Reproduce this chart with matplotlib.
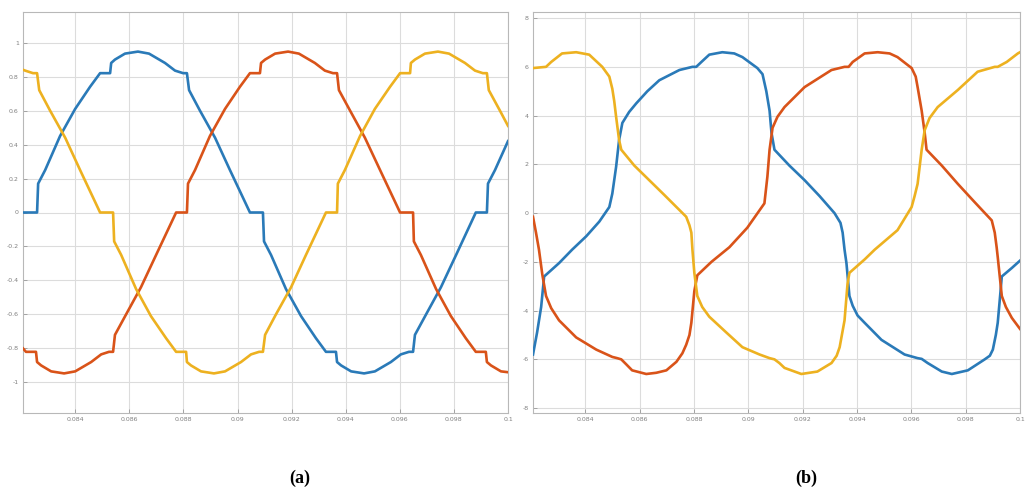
import matplotlib
matplotlib.use("Agg")
import matplotlib.pyplot as plt

# ---------------- Panel (a) data ----------------
a_blue_t = [0.08207, 0.08259, 0.08263, 0.08289, 0.08344, 0.08400, 0.08455, 0.08492, 0.08529, 0.08533,
            0.08547, 0.08584, 0.08632, 0.08673, 0.08732, 0.08769, 0.08799, 0.08813, 0.08821, 0.08861,
            0.08917, 0.08972, 0.09046, 0.09094, 0.09098, 0.09124, 0.09179, 0.09235, 0.09290, 0.09327,
            0.09364, 0.09368, 0.09383, 0.09420, 0.09468, 0.09508, 0.09567, 0.09604, 0.09634, 0.09649,
            0.09656, 0.09697, 0.09752, 0.09808, 0.09881, 0.09922, 0.09926, 0.09952, 0.10000]
a_blue_v = [0.0, 0.0, 0.17, 0.25, 0.45, 0.61, 0.74, 0.82, 0.82, 0.88,
            0.90, 0.935, 0.947, 0.935, 0.88, 0.835, 0.82, 0.82, 0.72, 0.60,
            0.44, 0.25, 0.0, 0.0, -0.17, -0.25, -0.45, -0.61, -0.74, -0.82,
            -0.82, -0.88, -0.90, -0.935, -0.947, -0.935, -0.88, -0.835, -0.82, -0.82,
            -0.72, -0.60, -0.44, -0.25, 0.0, 0.0, 0.17, 0.25, 0.42]

a_red_t = [0.08207, 0.08218, 0.08255, 0.08259, 0.08274, 0.08311, 0.08359, 0.08400, 0.08459, 0.08496,
           0.08525, 0.08540, 0.08547, 0.08588, 0.08643, 0.08699, 0.08773, 0.08813, 0.08817, 0.08843,
           0.08898, 0.08954, 0.09009, 0.09046, 0.09083, 0.09087, 0.09102, 0.09139, 0.09187, 0.09227,
           0.09286, 0.09323, 0.09353, 0.09368, 0.09375, 0.09416, 0.09471, 0.09527, 0.09601, 0.09649,
           0.09652, 0.09678, 0.09734, 0.09789, 0.09844, 0.09881, 0.09918, 0.09922, 0.09937, 0.09974,
           0.10000]
a_red_v = [-0.80, -0.82, -0.82, -0.88, -0.90, -0.935, -0.947, -0.935, -0.88, -0.835,
           -0.82, -0.82, -0.72, -0.60, -0.44, -0.25, 0.0, 0.0, 0.17, 0.25,
           0.45, 0.61, 0.74, 0.82, 0.82, 0.88, 0.90, 0.935, 0.947, 0.935,
           0.88, 0.835, 0.82, 0.82, 0.72, 0.60, 0.44, 0.25, 0.0, 0.0,
           -0.17, -0.25, -0.45, -0.61, -0.74, -0.82, -0.82, -0.88, -0.90, -0.935,
           -0.94]

a_yel_t = [0.08207, 0.08215, 0.08244, 0.08259, 0.08267, 0.08307, 0.08363, 0.08418, 0.08492, 0.08540,
           0.08544, 0.08570, 0.08625, 0.08680, 0.08736, 0.08773, 0.08810, 0.08813, 0.08828, 0.08865,
           0.08913, 0.08954, 0.09013, 0.09050, 0.09080, 0.09094, 0.09102, 0.09142, 0.09198, 0.09253,
           0.09327, 0.09368, 0.09371, 0.09397, 0.09453, 0.09508, 0.09564, 0.09601, 0.09638, 0.09641,
           0.09656, 0.09693, 0.09741, 0.09782, 0.09841, 0.09878, 0.09907, 0.09922, 0.09929, 0.09970,
           0.10000]
a_yel_v = [0.84, 0.835, 0.82, 0.82, 0.72, 0.60, 0.44, 0.25, 0.0, 0.0,
           -0.17, -0.25, -0.45, -0.61, -0.74, -0.82, -0.82, -0.88, -0.90, -0.935,
           -0.947, -0.935, -0.88, -0.835, -0.82, -0.82, -0.72, -0.60, -0.44, -0.25,
           0.0, 0.0, 0.17, 0.25, 0.45, 0.61, 0.74, 0.82, 0.82, 0.88,
           0.90, 0.935, 0.947, 0.935, 0.88, 0.835, 0.82, 0.82, 0.72, 0.60,
           0.51]

# ---------------- Panel (b) data ----------------
b_blue_t = [0.08207, 0.08222, 0.08237, 0.08248, 0.08303, 0.08351, 0.08403, 0.08451, 0.08488, 0.08499,
            0.08513, 0.08524, 0.08536, 0.08561, 0.08587, 0.08628, 0.08672, 0.08746, 0.08794, 0.08808,
            0.08827, 0.08856, 0.08904, 0.08948, 0.08978, 0.09033, 0.09052, 0.09066, 0.09078, 0.09085,
            0.09096, 0.09151, 0.09207, 0.09262, 0.09317, 0.09339, 0.09347, 0.09354, 0.09361, 0.09372,
            0.09384, 0.09402, 0.09428, 0.09490, 0.09575, 0.09623, 0.09638, 0.09660, 0.09712, 0.09749,
            0.09808, 0.09870, 0.09889, 0.09900, 0.09911, 0.09918, 0.09926, 0.09933, 0.09970, 0.10000]
b_blue_v = [-5.8, -4.9, -3.85, -2.6, -2.05, -1.5, -0.95, -0.35, 0.25, 0.8,
            1.9, 3.0, 3.7, 4.15, 4.5, 5.0, 5.45, 5.87, 6.0, 6.0,
            6.2, 6.5, 6.6, 6.55, 6.4, 5.95, 5.7, 5.0, 4.2, 3.3,
            2.6, 1.95, 1.35, 0.7, 0.0, -0.4, -0.8, -1.5, -2.05, -3.4,
            -3.8, -4.2, -4.5, -5.2, -5.8, -5.95, -5.98, -6.15, -6.5, -6.6,
            -6.45, -6.0, -5.85, -5.6, -5.0, -4.5, -3.5, -2.6, -2.25, -1.95]

b_red_t = [0.08207, 0.08218, 0.08229, 0.08241, 0.08255, 0.08274, 0.08303, 0.08366, 0.08440, 0.08499,
           0.08517, 0.08532, 0.08550, 0.08572, 0.08624, 0.08661, 0.08698, 0.08735, 0.08757, 0.08771,
           0.08783, 0.08790, 0.08801, 0.08812, 0.08864, 0.08930, 0.08996, 0.09059, 0.09070, 0.09078,
           0.09089, 0.09107, 0.09133, 0.09207, 0.09306, 0.09354, 0.09369, 0.09384, 0.09428, 0.09476,
           0.09520, 0.09549, 0.09601, 0.09616, 0.09623, 0.09638, 0.09649, 0.09656, 0.09712, 0.09771,
           0.09833, 0.09896, 0.09907, 0.09914, 0.09918, 0.09933, 0.09948, 0.09970, 0.10000]
b_red_v = [-0.15, -0.8, -1.5, -2.5, -3.4, -3.9, -4.4, -5.1, -5.6, -5.9,
           -5.95, -6.0, -6.2, -6.45, -6.6, -6.55, -6.45, -6.1, -5.75, -5.4,
           -5.0, -4.5, -3.2, -2.55, -2.0, -1.4, -0.6, 0.4, 1.5, 2.6,
           3.5, 3.95, 4.35, 5.17, 5.87, 6.0, 6.0, 6.2, 6.55, 6.6,
           6.55, 6.4, 5.95, 5.6, 5.17, 4.2, 3.3, 2.6, 1.95, 1.2,
           0.45, -0.3, -0.8, -1.4, -1.8, -3.4, -3.85, -4.3, -4.75]

b_yel_t = [0.08207, 0.08255, 0.08274, 0.08314, 0.08366, 0.08414, 0.08462, 0.08488, 0.08499, 0.08506,
           0.08513, 0.08524, 0.08532, 0.08580, 0.08635, 0.08690, 0.08735, 0.08771, 0.08783, 0.08790,
           0.08794, 0.08801, 0.08812, 0.08830, 0.08856, 0.08919, 0.08978, 0.09041, 0.09078, 0.09096,
           0.09114, 0.09133, 0.09195, 0.09254, 0.09306, 0.09325, 0.09336, 0.09354, 0.09365, 0.09372,
           0.09428, 0.09465, 0.09549, 0.09601, 0.09612, 0.09623, 0.09638, 0.09649, 0.09667, 0.09697,
           0.09771, 0.09844, 0.09907, 0.09918, 0.09951, 0.09992, 0.10000]
b_yel_v = [5.95, 6.0, 6.2, 6.55, 6.6, 6.5, 6.0, 5.6, 5.1, 4.6,
           3.95, 3.0, 2.6, 1.95, 1.35, 0.75, 0.25, -0.15, -0.5, -0.8,
           -1.5, -2.45, -3.4, -3.85, -4.25, -4.9, -5.5, -5.8, -5.95, -6.0,
           -6.15, -6.35, -6.6, -6.5, -6.15, -5.85, -5.5, -4.4, -2.9, -2.45,
           -1.9, -1.5, -0.7, 0.25, 0.7, 1.2, 2.6, 3.4, 3.9, 4.35,
           5.05, 5.8, 6.0, 6.0, 6.2, 6.55, 6.6]

x_ticks = [0.084, 0.086, 0.088, 0.09, 0.092, 0.094, 0.096, 0.098, 0.1]
x_ticklabels = ["0.084", "0.086", "0.088", "0.09", "0.092", "0.094", "0.096", "0.098", "0.1"]
a_yticks = [-1, -0.8, -0.6, -0.4, -0.2, 0, 0.2, 0.4, 0.6, 0.8, 1]
a_yticklabels = ["-1", "-0.8", "-0.6", "-0.4", "-0.2", "0", "0.2", "0.4", "0.6", "0.8", "1"]
b_yticks = [-8, -6, -4, -2, 0, 2, 4, 6, 8]
b_yticklabels = ["-8", "-6", "-4", "-2", "0", "2", "4", "6", "8"]
panel_labels = ["(a)", "(b)"]

BLUE = "#2a7ab8"
RED = "#d95319"
YEL = "#edb120"

fig = plt.figure(figsize=(10.25, 4.93), dpi=100)
W, H = 1025.0, 493.0
axA = fig.add_axes([23 / W, (H - 413) / H, 485 / W, 401 / H])
axB = fig.add_axes([533 / W, (H - 413) / H, 487 / W, 401 / H])

def style(ax, yticks, ylabels, ylim):
    ax.set_xlim(0.08207, 0.1)
    ax.set_ylim(*ylim)
    ax.set_xticks(x_ticks)
    ax.set_xticklabels(x_ticklabels)
    ax.set_yticks(yticks)
    ax.set_yticklabels(ylabels)
    ax.grid(True, color="#dcdcdc", linewidth=0.8)
    ax.set_axisbelow(True)
    ax.tick_params(direction="in", length=3, width=0.6, colors="#9a9a9a",
                   labelsize=4.5, labelcolor="#808080", pad=3)
    for s in ax.spines.values():
        s.set_color("#b8b8b8")
        s.set_linewidth(0.8)

lw = 1.9
axA.plot(a_blue_t, a_blue_v, color=BLUE, lw=lw, zorder=3)
axA.plot(a_red_t, a_red_v, color=RED, lw=lw, zorder=3)
axA.plot(a_yel_t, a_yel_v, color=YEL, lw=lw, zorder=3)
style(axA, a_yticks, a_yticklabels, (-1.18, 1.18))

axB.plot(b_blue_t, b_blue_v, color=BLUE, lw=lw, zorder=3)
axB.plot(b_red_t, b_red_v, color=RED, lw=lw, zorder=3)
axB.plot(b_yel_t, b_yel_v, color=YEL, lw=lw, zorder=3)
style(axB, b_yticks, b_yticklabels, (-8.2, 8.25))

fig.text(300 / W, 1 - 478 / H, panel_labels[0], ha="center", va="center",
         fontsize=13, fontweight="bold", family="Liberation Serif")
fig.text(806 / W, 1 - 478 / H, panel_labels[1], ha="center", va="center",
         fontsize=13, fontweight="bold", family="Liberation Serif")

fig.savefig("out.png", dpi=100)
